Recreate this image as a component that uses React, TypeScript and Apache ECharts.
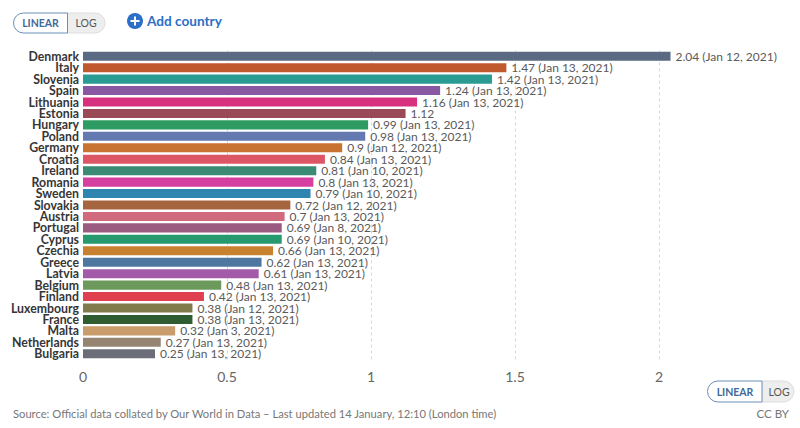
import React, { useEffect, useRef } from "react";
import * as echarts from "echarts";

const countries = [
  "Denmark", "Italy", "Slovenia", "Spain", "Lithuania", "Estonia", "Hungary", "Poland",
  "Germany", "Croatia", "Ireland", "Romania", "Sweden", "Slovakia", "Austria", "Portugal",
  "Cyprus", "Czechia", "Greece", "Latvia", "Belgium", "Finland", "Luxembourg", "France",
  "Malta", "Netherlands", "Bulgaria",
];

const values = [
  2.04, 1.47, 1.42, 1.24, 1.16, 1.12, 0.99, 0.98,
  0.9, 0.84, 0.81, 0.8, 0.79, 0.72, 0.7, 0.69,
  0.69, 0.66, 0.62, 0.61, 0.48, 0.42, 0.38, 0.38,
  0.32, 0.27, 0.25,
];

const dates = [
  "Jan 12, 2021", "Jan 13, 2021", "Jan 13, 2021", "Jan 13, 2021", "Jan 13, 2021", "", "Jan 13, 2021", "Jan 13, 2021",
  "Jan 12, 2021", "Jan 13, 2021", "Jan 10, 2021", "Jan 13, 2021", "Jan 10, 2021", "Jan 12, 2021", "Jan 13, 2021", "Jan 8, 2021",
  "Jan 10, 2021", "Jan 13, 2021", "Jan 13, 2021", "Jan 13, 2021", "Jan 13, 2021", "Jan 13, 2021", "Jan 12, 2021", "Jan 13, 2021",
  "Jan 3, 2021", "Jan 13, 2021", "Jan 13, 2021",
];

const colors = [
  "#5a6a82", "#c0592e", "#2a9b92", "#8858a3", "#d7307e", "#9a4a56", "#2e9c62", "#6379b0",
  "#c87331", "#dd5666", "#3b8a74", "#d53f9f", "#2e86b0", "#a5653f", "#d06b7d", "#9b5a80",
  "#27996f", "#c8822f", "#4e77a0", "#a35aa8", "#6b9a5c", "#e03f4f", "#817b4c", "#2f5c30",
  "#c99c6c", "#968473", "#6b6e78",
];

const xTicks = { min: 0, max: 2, interval: 0.5 };

const FONT = "Lato, 'Noto Sans', sans-serif";

export default function App() {
  const ref = useRef<HTMLDivElement>(null);

  useEffect(() => {
    if (!ref.current) return;
    const chart = echarts.init(ref.current, undefined, { renderer: "svg" });
    const option: any = {
      animation: false,
      textStyle: { fontFamily: FONT },
      grid: { left: 83, right: 141, top: 50.5, bottom: 68.5, containLabel: false },
      xAxis: {
        type: "value",
        min: xTicks.min,
        max: xTicks.max,
        interval: xTicks.interval,
        axisLine: { show: false },
        axisTick: { show: false },
        axisLabel: { fontSize: 14, color: "#666", margin: 10, fontFamily: FONT },
        splitLine: {
          show: true,
          showMinLine: false,
          showMaxLine: true,
          lineStyle: { type: [3, 3], color: "#d6d6d6", width: 1 },
        },
      },
      yAxis: {
        type: "category",
        inverse: true,
        data: countries,
        axisLine: { show: false },
        axisTick: { show: false },
        axisLabel: {
          interval: 0,
          fontSize: 12.3,
          lineHeight: 11,
          fontWeight: "bold",
          color: "#363636",
          margin: 4,
          fontFamily: FONT,
        },
      },
      series: [
        {
          type: "bar",
          clip: false,
          barCategoryGap: "21%",
          data: values.map((v, i) => ({ value: v, itemStyle: { color: colors[i] } })),
          label: {
            show: true,
            position: "right",
            distance: 5,
            fontSize: 12,
            lineHeight: 11,
            color: "#5a5a5a",
            fontFamily: FONT,
            formatter: (p: any) =>
              dates[p.dataIndex] ? `${values[p.dataIndex]} (${dates[p.dataIndex]})` : `${values[p.dataIndex]}`,
          },
          labelLayout: { hideOverlap: false },
        },
      ],
      graphic: [
        // top toggle
        {
          type: "rect",
          shape: { x: 67, y: 13, width: 38, height: 20, r: [0, 10, 10, 0] },
          style: { fill: "#eeeeee", stroke: "#dddddd", lineWidth: 1 },
        },
        {
          type: "rect",
          shape: { x: 13.5, y: 13, width: 54, height: 20, r: [10, 0, 0, 10] },
          style: { fill: "#ffffff", stroke: "#6a8fb8", lineWidth: 1 },
        },
        {
          type: "text",
          x: 40.5,
          y: 23,
          style: { text: "LINEAR", fontSize: 10.5, fontWeight: "bold", fill: "#3f6a9b", align: "center", verticalAlign: "middle", fontFamily: FONT },
        },
        {
          type: "text",
          x: 86,
          y: 23,
          style: { text: "LOG", fontSize: 10.5, fill: "#555", align: "center", verticalAlign: "middle", fontFamily: FONT },
        },
        // add country
        {
          type: "circle",
          shape: { cx: 135, cy: 21, r: 8 },
          style: { fill: "#2b6fc7" },
        },
        {
          type: "rect",
          shape: { x: 130.5, y: 20, width: 9, height: 2 },
          style: { fill: "#fff" },
        },
        {
          type: "rect",
          shape: { x: 134, y: 16.5, width: 2, height: 9 },
          style: { fill: "#fff" },
        },
        {
          type: "text",
          x: 147,
          y: 21,
          style: { text: "Add country", fontSize: 13.6, fontWeight: "bold", fill: "#2b6fc7", verticalAlign: "middle", fontFamily: FONT },
        },
        // bottom toggle
        {
          type: "rect",
          shape: { x: 762, y: 381, width: 32, height: 21, r: [0, 10.5, 10.5, 0] },
          style: { fill: "#eeeeee", stroke: "#dddddd", lineWidth: 1 },
        },
        {
          type: "rect",
          shape: { x: 707.5, y: 381, width: 54.5, height: 21, r: [10.5, 0, 0, 10.5] },
          style: { fill: "#ffffff", stroke: "#6a8fb8", lineWidth: 1 },
        },
        {
          type: "text",
          x: 735,
          y: 391.5,
          style: { text: "LINEAR", fontSize: 10.5, fontWeight: "bold", fill: "#3f6a9b", align: "center", verticalAlign: "middle", fontFamily: FONT },
        },
        {
          type: "text",
          x: 779,
          y: 391.5,
          style: { text: "LOG", fontSize: 10.5, fill: "#555", align: "center", verticalAlign: "middle", fontFamily: FONT },
        },
        // footer
        {
          type: "text",
          x: 13,
          y: 413,
          style: {
            text: "Source: Official data collated by Our World in Data – Last updated 14 January, 12:10 (London time)",
            fontSize: 11.2,
            fill: "#777",
            verticalAlign: "middle",
            fontFamily: FONT,
          },
        },
        {
          type: "text",
          x: 789,
          y: 413,
          style: { text: "CC BY", fontSize: 11.5, fill: "#777", align: "right", verticalAlign: "middle", fontFamily: FONT },
        },
      ],
    };
    chart.setOption(option);
    return () => chart.dispose();
  }, []);

  return <div ref={ref} style={{ width: 800, height: 428, position: "absolute", left: 0, top: 0 }} />;
}
